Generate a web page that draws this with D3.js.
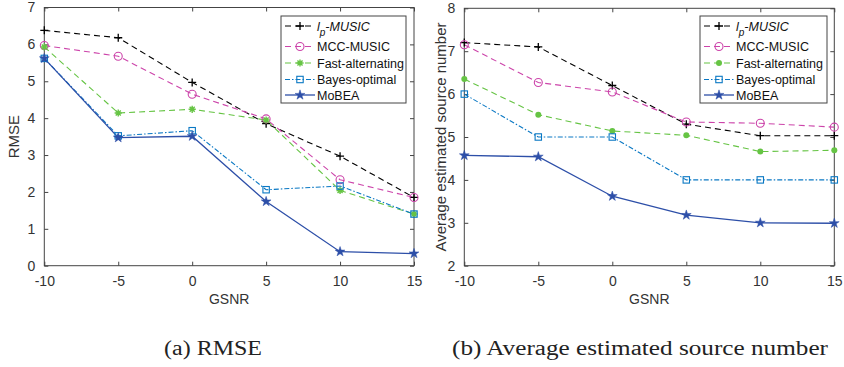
<!DOCTYPE html>
<html>
<head>
<meta charset="utf-8">
<script src="https://cdn.jsdelivr.net/npm/d3@7"></script>
<style>
  body { margin: 0; background: #fff; }
  svg text { font-family: "Liberation Sans", Arial, sans-serif; }
</style>
</head>
<body>
<svg id="fig" width="844" height="367"></svg>
<script>
// x values (GSNR)
var gsnr = [-10, -5, 0, 5, 10, 15];
var xTicks = [-10, -5, 0, 5, 10, 15];

// (a) RMSE
var rmseLp     = [6.38, 6.18, 4.97, 3.85, 2.97, 1.85];
var rmseMcc    = [5.97, 5.68, 4.65, 3.98, 2.33, 1.85];
var rmseFast   = [5.93, 4.14, 4.24, 3.95, 2.04, 1.40];
var rmseBayes  = [5.62, 3.52, 3.66, 2.06, 2.16, 1.40];
var rmseMobea  = [5.62, 3.47, 3.51, 1.74, 0.38, 0.33];
var rmseTicks  = [0, 1, 2, 3, 4, 5, 6, 7];

// (b) average estimated source number
var numLp      = [7.20, 7.10, 6.20, 5.30, 5.03, 5.03];
var numMcc     = [7.15, 6.27, 6.05, 5.35, 5.32, 5.23];
var numFast    = [6.35, 5.52, 5.14, 5.04, 4.66, 4.69];
var numBayes   = [6.00, 5.00, 5.00, 4.00, 4.00, 4.00];
var numMobea   = [4.57, 4.54, 3.62, 3.18, 3.00, 2.99];
var numTicks   = [2, 3, 4, 5, 6, 7, 8];

var seriesNames = ["lp-MUSIC", "MCC-MUSIC", "Fast-alternating", "Bayes-optimal", "MoBEA"];

var styles = [
  {color: "#000000", dash: "6,4",       marker: "plus"},
  {color: "#cc44aa", dash: "6,4",       marker: "circle"},
  {color: "#66c444", dash: "6,4",       marker: "asterisk"},
  {color: "#0a78c4", dash: "5,2,1.5,2", marker: "square"},
  {color: "#2d4fa8", dash: null,        marker: "star"}
];

var svg = d3.select("#fig");
var axisColor = "#444";
var fmt = function(d) { return String(d); };  // plain hyphen minus, no decimals

function drawMarker(g, type, color, x, y, dot) {
  if (type === "plus") {
    g.append("path").attr("d", "M" + (x - 4) + "," + y + "H" + (x + 4) + "M" + x + "," + (y - 4) + "V" + (y + 4))
      .attr("stroke", color).attr("stroke-width", 1.3).attr("fill", "none");
  } else if (type === "circle") {
    g.append("circle").attr("cx", x).attr("cy", y).attr("r", 4)
      .attr("stroke", color).attr("stroke-width", 1.1).attr("fill", "none");
  } else if (type === "asterisk") {
    if (dot) {
      g.append("circle").attr("cx", x).attr("cy", y).attr("r", 3).attr("fill", color);
    } else {
      var p = "";
      for (var i = 0; i < 4; i++) {
        var a = i * Math.PI / 4;
        p += "M" + (x - 3.6 * Math.cos(a)) + "," + (y - 3.6 * Math.sin(a)) + "L" + (x + 3.6 * Math.cos(a)) + "," + (y + 3.6 * Math.sin(a));
      }
      g.append("path").attr("d", p).attr("stroke", color).attr("stroke-width", 1.4);
    }
  } else if (type === "square") {
    g.append("rect").attr("x", x - 3.2).attr("y", y - 3.2).attr("width", 6.4).attr("height", 6.4)
      .attr("stroke", color).attr("stroke-width", 1.1).attr("fill", "none");
  } else if (type === "star") {
    g.append("path").attr("d", d3.symbol(d3.symbolStar, 30)()).attr("transform", "translate(" + x + "," + y + ")")
      .attr("fill", color).attr("stroke", color).attr("stroke-width", 0.5);
  }
}

function drawPanel(opt) {
  var x = d3.scaleLinear().domain([-10, 15]).range([opt.left, opt.right]);
  var y = d3.scaleLinear().domain(opt.yDomain).range([opt.bottom, opt.top]);
  var g = svg.append("g");

  // box
  g.append("rect").attr("x", opt.left).attr("y", opt.top)
    .attr("width", opt.right - opt.left).attr("height", opt.bottom - opt.top)
    .attr("fill", "#fff").attr("stroke", axisColor).attr("stroke-width", 1);

  // axes, inner ticks
  g.append("g").attr("transform", "translate(0," + opt.bottom + ")")
    .call(d3.axisBottom(x).tickValues(xTicks).tickFormat(fmt).tickSizeInner(-4).tickSizeOuter(0).tickPadding(10));
  g.append("g").attr("transform", "translate(0," + opt.top + ")")
    .call(d3.axisTop(x).tickValues(xTicks).tickSizeInner(-4).tickSizeOuter(0).tickFormat(""));
  g.append("g").attr("transform", "translate(" + opt.left + ",0)")
    .call(d3.axisLeft(y).tickValues(opt.yTicks).tickFormat(fmt).tickSizeInner(-4).tickSizeOuter(0).tickPadding(9));
  g.append("g").attr("transform", "translate(" + opt.right + ",0)")
    .call(d3.axisRight(y).tickValues(opt.yTicks).tickSizeInner(-4).tickSizeOuter(0).tickFormat(""));
  g.selectAll(".domain").remove();
  g.selectAll(".tick line").attr("stroke", axisColor);
  g.selectAll(".tick text").attr("fill", "#333").attr("font-size", 14)
    .attr("font-family", "Liberation Sans, Arial, sans-serif");

  // series
  var line = d3.line().x(function(d) { return x(d[0]); }).y(function(d) { return y(d[1]); });
  opt.series.forEach(function(vals, i) {
    var st = styles[i];
    var pts = gsnr.map(function(v, j) { return [v, vals[j]]; });
    g.append("path").datum(pts).attr("d", line)
      .attr("fill", "none").attr("stroke", st.color).attr("stroke-width", i === 4 ? 1.3 : 1.1)
      .attr("stroke-dasharray", st.dash);
  });
  opt.series.forEach(function(vals, i) {
    var st = styles[i];
    vals.forEach(function(v, j) {
      drawMarker(g, st.marker, st.color, x(gsnr[j]), y(v), opt.dot);
    });
  });

  // labels
  g.append("text").attr("x", (opt.left + opt.right) / 2).attr("y", opt.bottom + 38)
    .attr("text-anchor", "middle").attr("fill", "#333").style("font-size", "14px").text("GSNR");
  g.append("text").attr("transform", "translate(" + opt.yLabelX + "," + ((opt.top + opt.bottom) / 2) + ") rotate(-90)")
    .attr("text-anchor", "middle").attr("fill", "#333").style("font-size", "15px").text(opt.yLabel);

  // legend
  var lg = g.append("g");
  lg.append("rect").attr("x", opt.legX).attr("y", 16).attr("width", opt.legW).attr("height", 87)
    .attr("fill", "#fff").attr("stroke", axisColor).attr("stroke-width", 1);
  var rowY = [26, 46.5, 63, 79.5, 95];
  seriesNames.forEach(function(name, i) {
    var st = styles[i];
    var ry = rowY[i];
    var x0 = opt.legX + 4, x1 = opt.legX + 34;
    lg.append("line").attr("x1", x0).attr("x2", x1).attr("y1", ry).attr("y2", ry)
      .attr("stroke", st.color).attr("stroke-width", i === 4 ? 1.3 : 1.1).attr("stroke-dasharray", st.dash);
    drawMarker(lg, st.marker, st.color, (x0 + x1) / 2, ry, opt.dot);
    var t = lg.append("text").attr("x", x1 + 2).attr("y", ry + 4.5).attr("fill", "#111").style("font-size", "12.5px");
    if (i === 0) {
      t.style("font-style", "italic");
      t.append("tspan").text("l");
      t.append("tspan").attr("dy", 5).style("font-size", "10px").text("p");
      t.append("tspan").attr("dy", -5).text("-MUSIC");
    } else {
      t.text(name);
    }
  });

  // caption
  svg.append("text").attr("x", opt.capX).attr("y", 355)
    .attr("textLength", opt.capW).attr("lengthAdjust", "spacingAndGlyphs")
    .style("font-family", "'Liberation Serif', 'DejaVu Serif', serif").style("font-size", "20px")
    .attr("fill", "#222").text(opt.caption);
}

drawPanel({
  left: 44.3, right: 414, top: 7.5, bottom: 265.7,
  yDomain: [0, 7], yTicks: rmseTicks, yLabel: "RMSE", yLabelX: 19,
  series: [rmseLp, rmseMcc, rmseFast, rmseBayes, rmseMobea], dot: false,
  legX: 281, legW: 125, caption: "(a)  RMSE", capX: 164, capW: 98
});

drawPanel({
  left: 464.3, right: 834.3, top: 8.3, bottom: 265.7,
  yDomain: [2, 8], yTicks: numTicks, yLabel: "Average estimated source number", yLabelX: 446,
  series: [numLp, numMcc, numFast, numBayes, numMobea], dot: true,
  legX: 700, legW: 127, caption: "(b)  Average estimated source number", capX: 452, capW: 376
});
</script>
</body>
</html>
